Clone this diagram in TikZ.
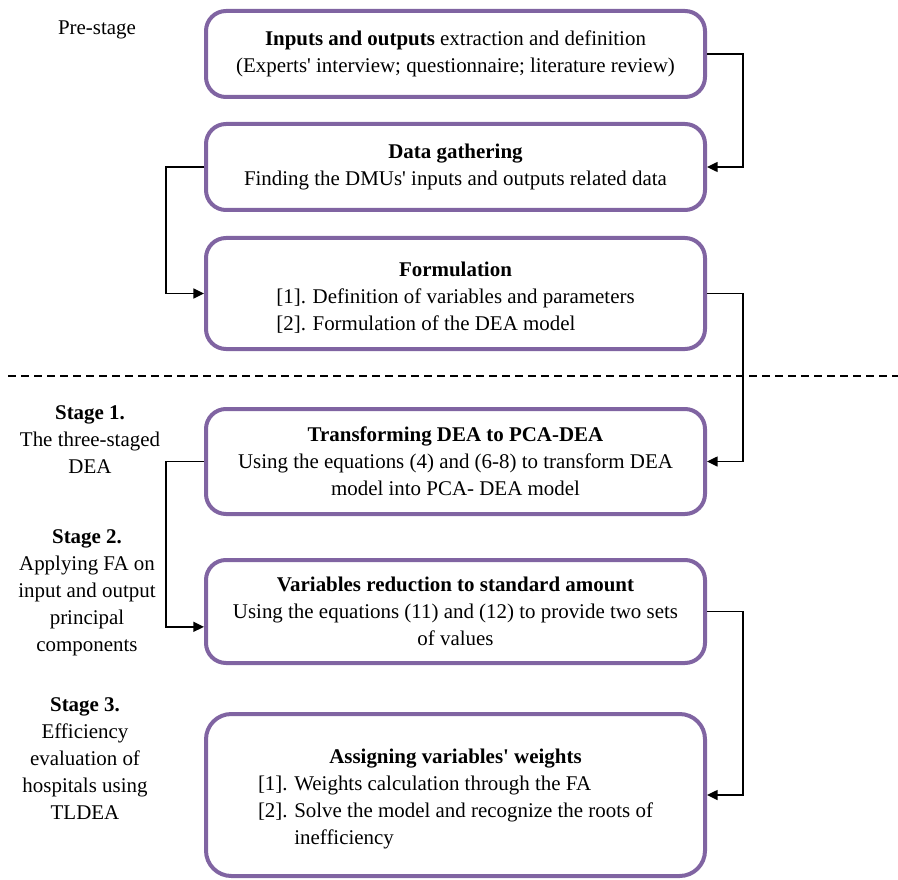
\documentclass[tikz,border=0pt]{standalone}
\usepackage{fontspec}
\setmainfont{Liberation Serif}[Ligatures=TeXOff]
\usetikzlibrary{arrows.meta}
\definecolor{boxpurple}{RGB}{128,100,162}

\begin{document}
\begin{tikzpicture}[x=0.75pt,y=-0.75pt,
    every node/.style={font=\fontsize{15.7}{20.25}\selectfont, align=center},
    stagebox/.style={draw=boxpurple, line width=3pt, rounded corners=15pt,
      minimum width=374.25pt, inner sep=0pt},
    conn/.style={line width=1.1pt, -{Triangle[length=8pt,width=7.5pt]}}]
  \useasboundingbox (0,0) rectangle (898,880);
  % stage labels on the left
  \node (pre) at (97,30) {Pre-stage};
  \node (s1) at (90,439.5) {\textbf{Stage 1.}\\The three-staged\\DEA};
  \node (s2) at (87,593) {\textbf{Stage 2.}\\Applying FA on\\input and output\\principal\\components};
  \node (s3) at (85,759) {\textbf{Stage 3.}\\Efficiency\\evaluation of\\hospitals using\\TLDEA};
  % process boxes
  \node[stagebox, minimum height=64.5pt] (b1) at (455.5,54)
    {\textbf{Inputs and outputs} extraction and definition\\(Experts' interview; questionnaire; literature review)};
  \node[stagebox, minimum height=64.5pt] (b2) at (455.5,167)
    {\textbf{Data gathering}\\Finding the DMUs' inputs and outputs related data};
  \node[stagebox, minimum height=83.25pt] (b3) at (455.5,293.5)
    {\begin{tabular}{@{}l@{\hspace{5pt}}l@{}}
     \multicolumn{2}{c}{\rule{0pt}{21.5pt}\textbf{Formulation}}\\
     {}[1]. & Definition of variables and parameters\\
     {}[2]. & Formulation of the DEA model
     \end{tabular}};
  \node[stagebox, minimum height=78.75pt] (b4) at (455.5,461.5)
    {\textbf{Transforming DEA to PCA-DEA}\\Using the equations (4) and (6-8) to transform DEA\\model into PCA- DEA model};
  \node[stagebox, minimum height=77.25pt] (b5) at (455.5,611.5)
    {\textbf{Variables reduction to standard amount}\\Using the equations (11) and (12) to provide two sets\\of values};
  \node[stagebox, minimum height=121.5pt, rounded corners=19pt] (b6) at (455.5,795)
    {\begin{tabular}{@{}l@{\hspace{5pt}}l@{}}
     \multicolumn{2}{c}{\rule{0pt}{20pt}\textbf{Assigning variables' weights}}\\
     {}[1]. & Weights calculation through the FA\\
     {}[2]. & Solve the model and recognize the roots of\\
            & inefficiency
     \end{tabular}};
  % separator
  \coordinate (dl) at (8,376);
  \coordinate (dr) at (898,376);
  \draw[line width=1.1pt, dash pattern=on 6pt off 3.75pt] (dl) -- (dr);
  % connectors
  \foreach \from/\to in {b1/b2, b3/b4, b5/b6}
    \draw[conn] (\from.east) -- ++(36,0) |- (\to.east);
  \coordinate (b5in) at ([yshift=-11.5pt]b5.west);
  \foreach \from/\to in {b2/b3.west, b4/b5in}
    \draw[conn] (\from.west) -- ++(-38,0) |- (\to);
\end{tikzpicture}
\end{document}
